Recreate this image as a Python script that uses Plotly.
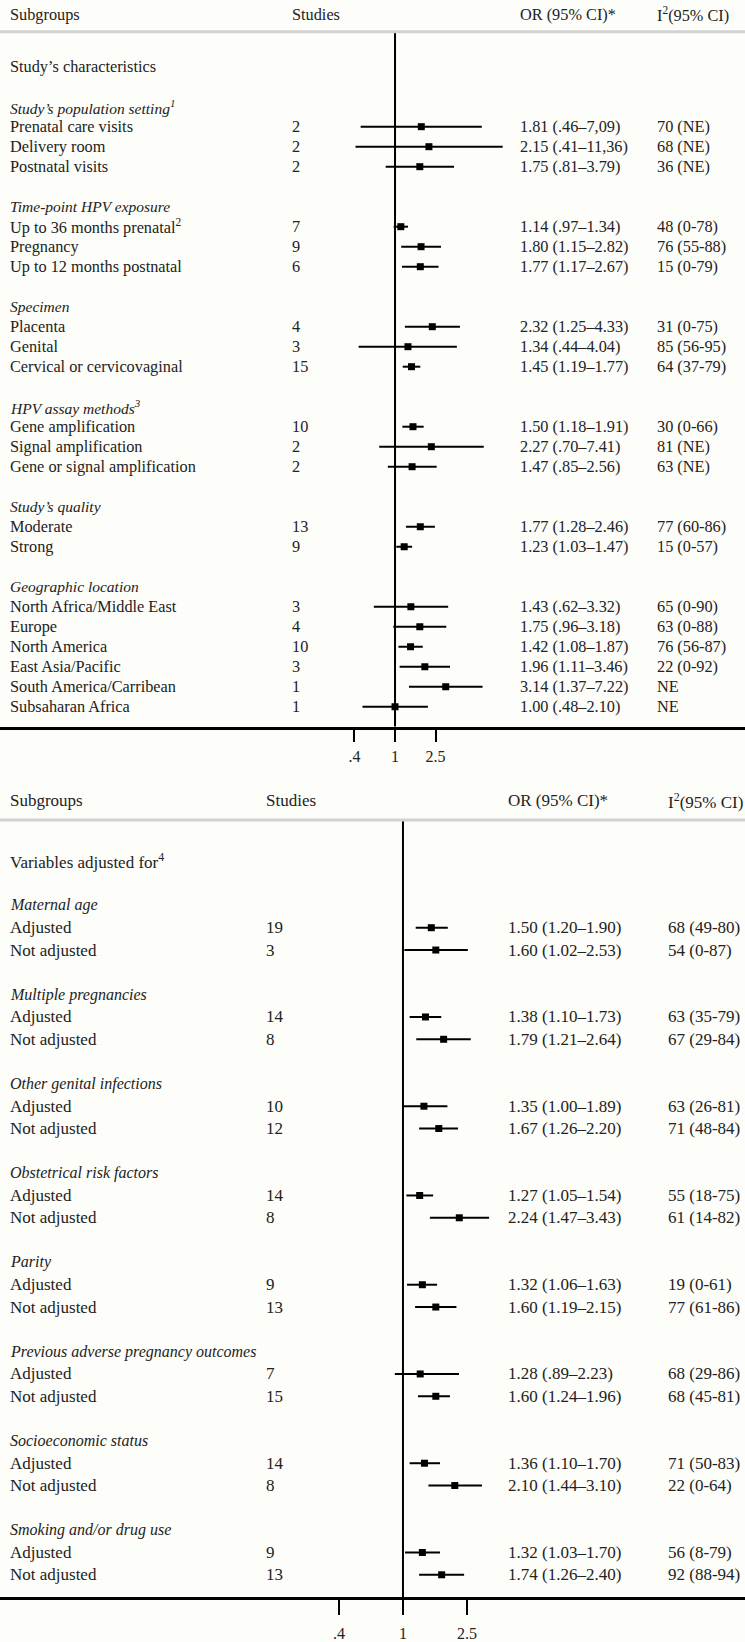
import plotly.graph_objects as go

W, H = 745, 1642
FONT = "Liberation Serif"
TXT = "#222222"
BG = "#fdfdf9"

# ---------------- top panel data ----------------
top_section = "Study’s characteristics"
top_groups = ["Study’s population setting<sup>1</sup>", "Time-point HPV exposure", "Specimen",
              "HPV assay methods<sup>3</sup>", "Study’s quality", "Geographic location"]
top_group_sizes = [3, 3, 3, 3, 2, 6]
top_labels = ["Prenatal care visits", "Delivery room", "Postnatal visits",
              "Up to 36 months prenatal<sup>2</sup>", "Pregnancy", "Up to 12 months postnatal",
              "Placenta", "Genital", "Cervical or cervicovaginal",
              "Gene amplification", "Signal amplification", "Gene or signal amplification",
              "Moderate", "Strong",
              "North Africa/Middle East", "Europe", "North America", "East Asia/Pacific",
              "South America/Carribean", "Subsaharan Africa"]
top_studies = [2, 2, 2, 7, 9, 6, 4, 3, 15, 10, 2, 2, 13, 9, 3, 4, 10, 3, 1, 1]
top_or = [1.81, 2.15, 1.75, 1.14, 1.80, 1.77, 2.32, 1.34, 1.45, 1.50, 2.27, 1.47,
          1.77, 1.23, 1.43, 1.75, 1.42, 1.96, 3.14, 1.00]
top_lo = [0.46, 0.41, 0.81, 0.97, 1.15, 1.17, 1.25, 0.44, 1.19, 1.18, 0.70, 0.85,
          1.28, 1.03, 0.62, 0.96, 1.08, 1.11, 1.37, 0.48]
top_hi = [7.09, 11.36, 3.79, 1.34, 2.82, 2.67, 4.33, 4.04, 1.77, 1.91, 7.41, 2.56,
          2.46, 1.47, 3.32, 3.18, 1.87, 3.46, 7.22, 2.10]
top_or_text = ["1.81 (.46–7,09)", "2.15 (.41–11,36)", "1.75 (.81–3.79)",
               "1.14 (.97–1.34)", "1.80 (1.15–2.82)", "1.77 (1.17–2.67)",
               "2.32 (1.25–4.33)", "1.34 (.44–4.04)", "1.45 (1.19–1.77)",
               "1.50 (1.18–1.91)", "2.27 (.70–7.41)", "1.47 (.85–2.56)",
               "1.77 (1.28–2.46)", "1.23 (1.03–1.47)",
               "1.43 (.62–3.32)", "1.75 (.96–3.18)", "1.42 (1.08–1.87)", "1.96 (1.11–3.46)",
               "3.14 (1.37–7.22)", "1.00 (.48–2.10)"]
top_i2_text = ["70 (NE)", "68 (NE)", "36 (NE)", "48 (0-78)", "76 (55-88)", "15 (0-79)",
               "31 (0-75)", "85 (56-95)", "64 (37-79)", "30 (0-66)", "81 (NE)", "63 (NE)",
               "77 (60-86)", "15 (0-57)", "65 (0-90)", "63 (0-88)", "76 (56-87)", "22 (0-92)",
               "NE", "NE"]

# ---------------- bottom panel data ----------------
bot_section = "Variables adjusted for<sup>4</sup>"
bot_groups = ["Maternal age", "Multiple pregnancies", "Other genital infections",
              "Obstetrical risk factors", "Parity", "Previous adverse pregnancy outcomes",
              "Socioeconomic status", "Smoking and/or drug use"]
bot_group_sizes = [2, 2, 2, 2, 2, 2, 2, 2]
bot_labels = ["Adjusted", "Not adjusted"] * 8
bot_studies = [19, 3, 14, 8, 10, 12, 14, 8, 9, 13, 7, 15, 14, 8, 9, 13]
bot_or = [1.50, 1.60, 1.38, 1.79, 1.35, 1.67, 1.27, 2.24, 1.32, 1.60, 1.28, 1.60,
          1.36, 2.10, 1.32, 1.74]
bot_lo = [1.20, 1.02, 1.10, 1.21, 1.00, 1.26, 1.05, 1.47, 1.06, 1.19, 0.89, 1.24,
          1.10, 1.44, 1.03, 1.26]
bot_hi = [1.90, 2.53, 1.73, 2.64, 1.89, 2.20, 1.54, 3.43, 1.63, 2.15, 2.23, 1.96,
          1.70, 3.10, 1.70, 2.40]
bot_or_text = ["1.50 (1.20–1.90)", "1.60 (1.02–2.53)", "1.38 (1.10–1.73)", "1.79 (1.21–2.64)",
               "1.35 (1.00–1.89)", "1.67 (1.26–2.20)", "1.27 (1.05–1.54)", "2.24 (1.47–3.43)",
               "1.32 (1.06–1.63)", "1.60 (1.19–2.15)", "1.28 (.89–2.23)", "1.60 (1.24–1.96)",
               "1.36 (1.10–1.70)", "2.10 (1.44–3.10)", "1.32 (1.03–1.70)", "1.74 (1.26–2.40)"]
bot_i2_text = ["68 (49-80)", "54 (0-87)", "63 (35-79)", "67 (29-84)", "63 (26-81)", "71 (48-84)",
               "55 (18-75)", "61 (14-82)", "19 (0-61)", "77 (61-86)", "68 (29-86)", "68 (45-81)",
               "71 (50-83)", "22 (0-64)", "56 (8-79)", "92 (88-94)"]

headers = ["Subgroups", "Studies", "OR (95% CI)*", "I<sup>2</sup>(95% CI)"]
tick_vals = [0.4, 1, 2.5]
tick_text = [".4", "1", "2.5"]


def group_rows(sizes):
    hdr, items = [], []
    k = -1
    for n in sizes:
        hdr.append(k)
        items.extend(range(k + 1, k + 1 + n))
        k += n + 2
    return hdr, items


panels = [
    dict(xa="x", ya="y", section=top_section, groups=top_groups, sizes=top_group_sizes,
         labels=top_labels, studies=top_studies, orv=top_or, lo=top_lo, hi=top_hi,
         ortxt=top_or_text, i2txt=top_i2_text,
         cols=[8, 290, 518, 655], fs=16.3, ifs=15.5, head_row=-5.59, gray_row=-4.75),
    dict(xa="x2", ya="y2", section=bot_section, groups=bot_groups, sizes=bot_group_sizes,
         labels=bot_labels, studies=bot_studies, orv=bot_or, lo=bot_lo, hi=bot_hi,
         ortxt=bot_or_text, i2txt=bot_i2_text,
         cols=[8, 264, 506, 666], fs=17, ifs=16, head_row=-5.68, gray_row=-4.83),
]

fig = go.Figure()
annotations = []
shapes = []

for p in panels:
    hdr_rows, item_rows = group_rows(p["sizes"])
    # vertical reference line at OR = 1
    fig.add_trace(go.Scatter(x=[1, 1], y=[p["gray_row"], 30], mode="lines",
                             line=dict(color="black", width=2),
                             xaxis=p["xa"], yaxis=p["ya"], hoverinfo="skip", showlegend=False))
    # CI lines
    xs, ys = [], []
    for lo, hi, r in zip(p["lo"], p["hi"], item_rows):
        xs += [lo, hi, None]
        ys += [r, r, None]
    fig.add_trace(go.Scatter(x=xs, y=ys, mode="lines", line=dict(color="black", width=2),
                             xaxis=p["xa"], yaxis=p["ya"], hoverinfo="skip", showlegend=False))
    # point estimates
    fig.add_trace(go.Scatter(x=p["orv"], y=item_rows, mode="markers",
                             marker=dict(symbol="square", size=7, color="black"),
                             xaxis=p["xa"], yaxis=p["ya"], showlegend=False))

    def txt(xpx, row, s, size, italic=False):
        annotations.append(dict(
            x=xpx / W, xref="paper", y=row, yref=p["ya"], text=s, showarrow=False,
            xanchor="left", yanchor="middle",
            font=dict(family=FONT, size=size, color=TXT, style="italic" if italic else "normal")))

    c = p["cols"]
    for xpx, h in zip(c, headers):
        txt(xpx, p["head_row"], h, p["fs"])
    txt(c[0], -3, p["section"], p["fs"])
    for g, r in zip(p["groups"], hdr_rows):
        txt(c[0], r, g, p["ifs"], italic=True)
    for lab, st, ot, it, r in zip(p["labels"], p["studies"], p["ortxt"], p["i2txt"], item_rows):
        txt(c[0], r, lab, p["fs"])
        txt(c[1], r, str(st), p["fs"])
        txt(c[2], r, ot, p["fs"])
        txt(c[3], r, it, p["fs"])

    shapes.append(dict(type="line", xref="paper", x0=0, x1=1, yref=p["ya"],
                       y0=p["gray_row"], y1=p["gray_row"],
                       line=dict(color="#d2d2d2", width=3)))

common_x = dict(type="log", showgrid=False, zeroline=False, showline=True, linecolor="black",
                linewidth=2.5, ticks="outside", tickcolor="black", tickwidth=2,
                tickvals=tick_vals, ticktext=tick_text,
                tickfont=dict(family=FONT, size=16, color=TXT), fixedrange=True)
common_y = dict(visible=False, showgrid=False, zeroline=False, fixedrange=True)

fig.update_layout(
    width=W, height=H, margin=dict(l=0, r=0, t=0, b=0),
    paper_bgcolor=BG, plot_bgcolor=BG, showlegend=False,
    xaxis=dict(common_x, domain=[0, 1], range=[-3.8725, 3.431], anchor="y",
               ticklen=13, ticklabelstandoff=0),
    yaxis=dict(common_y, domain=[1 - 728.5 / H, 1], range=[30, -6.334]),
    xaxis2=dict(common_x, domain=[0, 1], range=[-2.506, 2.127], anchor="y2",
                ticklen=15, ticklabelstandoff=5),
    yaxis2=dict(common_y, domain=[1 - 1601 / H, 1 - 780 / H], range=[30, -6.705]),
    annotations=annotations, shapes=shapes,
)

fig.write_html("out.html", config={"displayModeBar": False},
               post_script="document.body.style.margin='0px';"
                           "document.body.style.background='" + BG + "';")
